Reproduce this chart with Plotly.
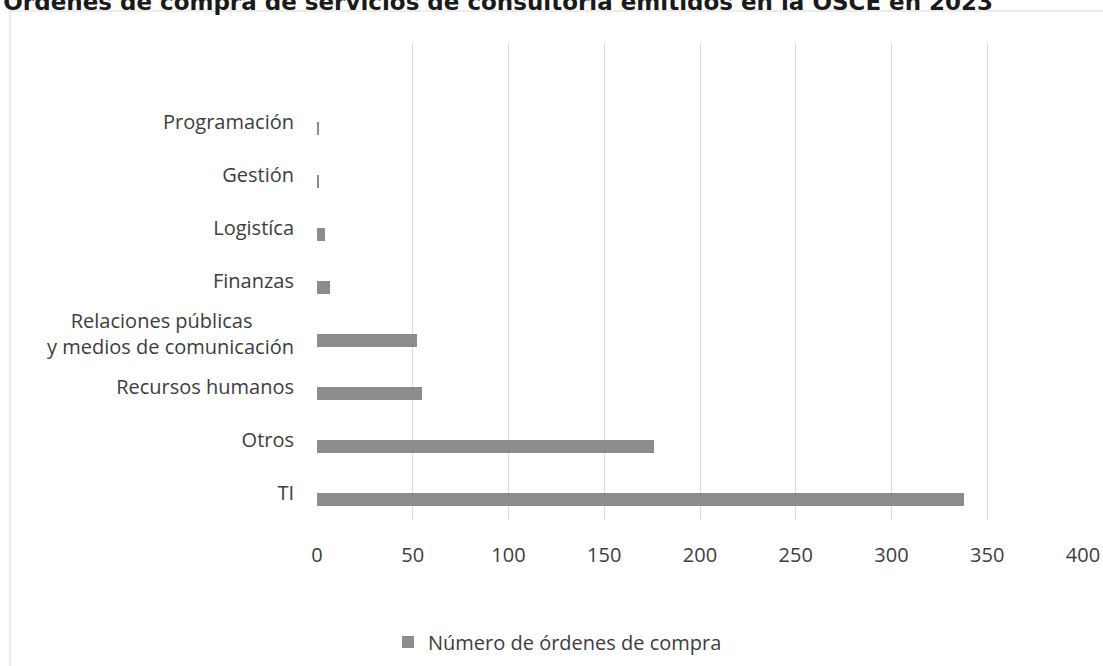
import plotly.graph_objects as go

# Orders per consulting area (top slot of the category axis is left empty)
categories = [
    "TI",
    "Otros",
    "Recursos humanos",
    "Relaciones públicas\u00a0\u00a0\u00a0\u00a0\u00a0\u00a0\u00a0\u00a0<br>y medios de comunicación",
    "Finanzas",
    "Logistíca",
    "Gestión",
    "Programación",
]
orders = [338, 176, 55, 52, 7, 4, 1, 1]
x_ticks = [0, 50, 100, 150, 200, 250, 300, 350, 400]

series_name = "Número de órdenes de compra"
title_text = "Órdenes de compra de servicios de consultoría emitidos en la OSCE en 2023"

W, H = 1103, 666
L, R, T, B = 317, 20, 43, 147
pw, ph = W - L - R, H - T - B

def px(x):
    return (x - L) / pw

def py(y):
    return (H - B - y) / ph

text_col = "#3d3d3d"
grid_col = "#d9d9d9"
bar_col = "#8c8c8c"
font_family = "Open Sans, Noto Sans, sans-serif"

fig = go.Figure()
fig.add_trace(go.Bar(
    y=categories,
    x=orders,
    orientation="h",
    name=series_name,
    marker=dict(color=bar_col, line=dict(width=0)),
    width=0.246,
    offset=-0.246,
    showlegend=True,
))

fig.update_layout(
    width=W,
    height=H,
    autosize=False,
    margin=dict(l=L, r=R, t=T, b=B, pad=0, autoexpand=False),
    paper_bgcolor="white",
    plot_bgcolor="white",
    font=dict(family=font_family, size=20, color=text_col),
    title=dict(
        text=title_text,
        font=dict(family="DejaVu Sans, sans-serif", size=23, color="#1a1a1a", weight="bold"),
        x=0.003, xanchor="left", xref="container",
        y=1 - 1.5 / H, yanchor="middle", yref="container",
    ),
    xaxis=dict(
        range=[0, 400],
        tickvals=x_ticks,
        ticktext=[str(v) for v in x_ticks],
        showgrid=True,
        gridcolor=grid_col,
        gridwidth=1,
        zeroline=False,
        showline=False,
        ticks="",
        ticklabelstandoff=22,
        tickfont=dict(size=20, color=text_col),
        automargin=False,
        fixedrange=True,
    ),
    yaxis=dict(
        type="category",
        categoryorder="array",
        categoryarray=categories,
        range=[-0.5, 8.5],
        showgrid=False,
        zeroline=False,
        showline=False,
        ticks="",
        ticklabelstandoff=22,
        tickfont=dict(size=20, color=text_col),
        automargin=False,
        fixedrange=True,
    ),
    legend=dict(
        orientation="h",
        x=px(388), xanchor="left",
        y=py(642), yanchor="middle",
        font=dict(size=20, color=text_col),
        bgcolor="rgba(0,0,0,0)",
    ),
    bargap=0,
    shapes=[
        dict(
            type="rect", xref="paper", yref="paper",
            x0=px(10), x1=px(1110), y0=py(11), y1=py(680),
            line=dict(color=grid_col, width=1),
            fillcolor="rgba(0,0,0,0)",
            layer="below",
        )
    ],
)

fig.write_html("out.html")
